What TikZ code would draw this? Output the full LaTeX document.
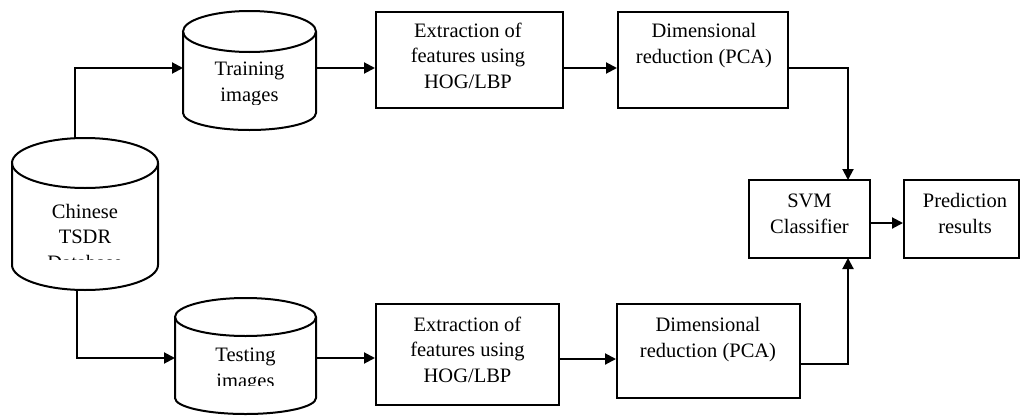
\documentclass[tikz,border=0pt]{standalone}
\usepackage{fontspec}
\setmainfont{Liberation Serif}
\usetikzlibrary{arrows.meta}
\begin{document}
\begin{tikzpicture}[x=1pt,y=-1pt,
  arr/.style={line width=2pt,-{Triangle[length=11pt,width=11pt]}},
  box/.style={draw,line width=2pt,minimum width=#1,inner sep=0pt},
  txt/.style={font=\fontsize{20.5}{25.5}\selectfont,align=center,anchor=base,inner sep=0pt},
  cyl/.style={line width=2pt}]
\fill[white] (0,0) rectangle (1022,415);
\useasboundingbox (0,0) rectangle (1022,415);

% cylinders
\draw[cyl] (85,163) ellipse[x radius=73pt,y radius=25pt];
\draw[cyl] (12,163) -- (12,265) arc[start angle=180,end angle=360,x radius=73pt,y radius=25pt] -- (158,163);
\draw[cyl] (249.5,31.5) ellipse[x radius=66.5pt,y radius=20.5pt];
\draw[cyl] (183,31.5) -- (183,113) arc[start angle=180,end angle=360,x radius=66.5pt,y radius=17pt] -- (316,31.5);
\draw[cyl] (245.5,317) ellipse[x radius=70.5pt,y radius=19pt];
\draw[cyl] (175,317) -- (175,398) arc[start angle=180,end angle=360,x radius=70.5pt,y radius=16pt] -- (316,317);

\begin{scope}
\clip (0,0) rectangle (1022,259);
\node[txt] (tchin) at (85,269) {Chinese\\TSDR\\Database};
\end{scope}
\begin{scope}
\clip (0,0) rectangle (1022,104);
\node[txt] (ttrain) at (249.5,101) {Training\\images};
\end{scope}
\begin{scope}
\clip (0,0) rectangle (1022,385.5);
\node[txt] (ttest) at (245.5,387) {Testing\\images};
\end{scope}

% boxes
\node[box=187pt,minimum height=96pt] (ext1) at (469.5,60) {};
\node[box=170pt,minimum height=96pt] (dim1) at (703,60) {};
\node[box=183pt,minimum height=101pt] (ext2) at (467.5,354.5) {};
\node[box=183pt,minimum height=94pt] (dim2) at (708.5,351) {};
\node[box=121pt,minimum height=78pt] (svm) at (809.5,219) {};
\node[box=115pt,minimum height=78pt] (pred) at (961.5,219) {};

\node[txt] (text1) at (468,88) {Extraction of\\features using\\HOG/LBP};
\node[txt] (tdim1) at (704,63) {Dimensional\\reduction (PCA)};
\node[txt] (text2) at (467.5,382) {Extraction of\\features using\\HOG/LBP};
\node[txt] (tdim2) at (708,357) {Dimensional\\reduction (PCA)};
\node[txt] (tsvm) at (809.5,233) {SVM\\Classifier};
\node[txt] (tpred) at (965,233) {Prediction\\results};

% connection points
\coordinate (chtop) at (75,138);
\coordinate (chbot) at (77,290);
\coordinate (trL) at (183,68);
\coordinate (trR) at (316,68);
\coordinate (teL) at (175,358);
\coordinate (teR) at (316,358);
\coordinate (svmT) at (848,180);
\coordinate (svmB) at (848,258);

\draw[arr] (chtop) |- (trL);
\draw[arr] (chbot) |- (teL);
\draw[arr] (trR) -- (ext1.west |- trR);
\draw[arr] (ext1.east |- 0,68) -- (dim1.west |- 0,68);
\draw[arr] (dim1.east |- 0,68) -| (svmT);
\draw[arr] (teR) -- (ext2.west |- teR);
\draw[arr] (ext2.east |- 0,359) -- (dim2.west |- 0,359);
\draw[arr] (dim2.east |- 0,364) -| (svmB);
\draw[arr] (svm.east |- 0,223) -- (pred.west |- 0,223);
\end{tikzpicture}
\end{document}
